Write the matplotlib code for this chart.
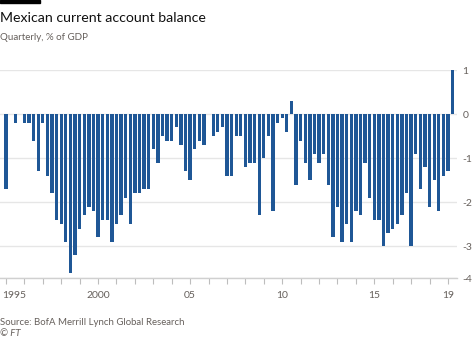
import numpy as np
import matplotlib.pyplot as plt
from matplotlib.patches import Rectangle
from matplotlib.transforms import ScaledTranslation

plt.rcParams['font.family'] = ['Lato', 'DejaVu Sans']

# Mexican current account balance, % of GDP, quarterly from 1995 Q1
balance = [
    -1.7, 0.0, -0.2, 0.0, -0.2, -0.2, -0.6, -1.3,   # 1995-96
    -0.2, -1.4, -1.8, -2.4, -2.5, -2.9, -3.6, -3.2,  # 1997-98
    -2.6, -2.3, -2.1, -2.2, -2.8, -2.4, -2.4, -2.9,  # 1999-2000
    -2.5, -2.3, -1.9, -2.5, -1.8, -1.8, -1.7, -1.7,  # 2001-02
    -0.8, -1.1, -0.5, -0.6, -0.6, -0.3, -0.7, -1.3,  # 2003-04
    -1.5, -0.8, -0.6, -0.7, 0.0, -0.5, -0.4, -0.3,   # 2005-06
    -1.4, -1.4, -0.5, -0.5, -1.2, -1.1, -1.1, -2.3,  # 2007-08
    -1.0, -0.5, -2.2, -0.2, -0.1, -0.4, 0.3, -1.6,   # 2009-10
    -0.6, -1.1, -1.5, -0.9, -1.1, -0.9, -1.6, -2.8,  # 2011-12
    -2.1, -2.9, -2.5, -2.9, -2.2, -2.3, -1.1, -1.9,  # 2013-14
    -2.4, -2.4, -3.0, -2.7, -2.6, -2.5, -2.3, -1.8,  # 2015-16
    -3.0, -0.9, -1.7, -1.2, -2.1, -1.5, -2.2, -1.4,  # 2017-18
    -1.3, 1.0,                                       # 2019
]
start_year = 1995
dates = start_year + np.arange(len(balance)) * 0.25

year_ticks = np.arange(1995, 2020)
year_labels = {1995: '1995', 2000: '2000', 2005: '05', 2010: '10', 2015: '15', 2019: '19'}
y_ticks = [1, 0, -1, -2, -3, -3.72]
y_labels = ['1', '0', '-1', '-2', '-3', '-4']

W, H = 474, 338
fig = plt.figure(figsize=(W / 100, H / 100), dpi=100)
ax = fig.add_axes([0, 1 - 278 / H, 457 / W, 208 / H])

ax.bar(dates, balance, width=0.18, color='#1f5796', zorder=3)

ax.set_xlim(1994.675, 2019.49)
ax.set_ylim(-3.72, 1.0)

ax.set_yticks(y_ticks)
ax.set_yticklabels(y_labels)
ax.yaxis.tick_right()
ax.tick_params(axis='y', length=0, pad=4, labelsize=7.5, labelcolor='#66605c')
ax.grid(axis='y', color='#e6e6e6', lw=1, zorder=0)

ax.set_xticks(year_ticks)
ax.set_xticklabels([year_labels.get(y, '') for y in year_ticks])
ax.tick_params(axis='x', direction='out', length=4.5, width=0.8, color='#bdbdbd',
               pad=4.5, labelsize=7.5, labelcolor='#66605c')
first = ax.get_xticklabels()[0]
first.set_horizontalalignment('left')
first.set_transform(first.get_transform() + ScaledTranslation(-4 / 100, 0, fig.dpi_scale_trans))

for side in ['top', 'left', 'right']:
    ax.spines[side].set_visible(False)
ax.spines['bottom'].set_color('#d0d0d0')
ax.spines['bottom'].set_linewidth(1)

# header and footer
fig.patches.append(Rectangle((0, 1 - 3 / H), 40 / W, 3 / H, transform=fig.transFigure,
                             color='black'))
fig.text(0, 1 - 21.5 / H, 'Mexican current account balance', fontsize=10.2,
         color='#111111', va='baseline')
fig.text(0, 1 - 40.5 / H, 'Quarterly, % of GDP', fontsize=7.0, color='#66605c',
         va='baseline')
fig.text(0, 1 - 325 / H, 'Source: BofA Merrill Lynch Global Research', fontsize=6.9,
         color='#66605c', va='baseline')
fig.text(0, 1 - 336 / H, '© FT', fontsize=6.9, color='#66605c', va='baseline',
         style='italic')

fig.savefig('out.png', dpi=100)
